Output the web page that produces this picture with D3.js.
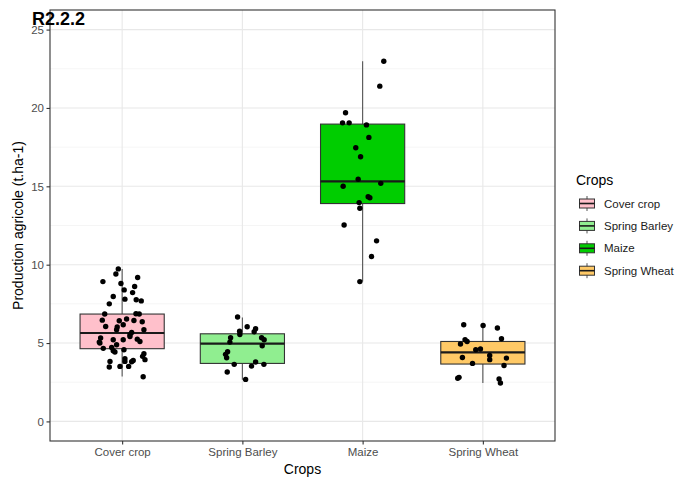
<!DOCTYPE html>
<html>
<head>
<meta charset="utf-8">
<script src="https://cdn.jsdelivr.net/npm/d3@7"></script>
<style>
  html, body { margin: 0; padding: 0; background: #fff; }
  svg { display: block; font-family: "Liberation Sans", Arial, sans-serif; }
</style>
</head>
<body>
<svg id="chart" width="678" height="477"></svg>
<script>
// ---------------- data ----------------
const categories = ["Cover crop", "Spring Barley", "Maize", "Spring Wheat"];
const yTicks = [0, 5, 10, 15, 20, 25];
const yMinorTicks = [2.5, 7.5, 12.5, 17.5, 22.5];

// box statistics (whisker low, Q1, median, Q3, whisker high)
const whiskerLow  = [2.87, 2.66, 8.93, 2.45];
const quartile1   = [4.64, 3.70, 13.90, 3.66];
const medians     = [5.64, 4.96, 15.32, 4.40];
const quartile3   = [6.85, 5.59, 18.97, 5.10];
const whiskerHigh = [9.73, 6.63, 22.98, 6.17];

// observations (values) and their horizontal jitter (fraction of category step)
const coverValues = [9.73,9.41,8.92,9.18,8.80,8.61,8.39,8.22,7.97,7.80,7.76,7.69,7.50,6.85,6.87,6.85,6.46,6.42,6.53,6.44,6.36,6.06,6.02,6.17,5.85,5.85,5.68,5.42,5.32,5.21,5.06,5.21,5.25,5.10,4.89,4.66,4.72,4.51,4.57,4.32,4.00,4.15,3.94,3.83,3.81,3.51,3.51,3.47,2.85,5.00,5.53,4.43,3.83,3.89];
const coverJitter = [-0.032,-0.052,-0.160,0.129,-0.010,0.104,0.017,0.087,-0.074,0.023,0.117,0.159,-0.107,-0.145,0.115,0.142,-0.165,-0.024,0.037,0.098,0.167,-0.137,-0.041,0.009,-0.046,0.181,0.079,0.065,-0.179,-0.074,-0.190,0.009,0.126,0.148,-0.046,-0.157,-0.087,-0.074,0.015,0.181,0.023,0.170,0.190,-0.101,0.079,-0.018,0.054,-0.107,0.175,-0.185,0.065,-0.060,0.023,0.092];

const barleyValues = [6.66,6.04,5.91,5.72,5.76,5.55,5.34,5.34,5.21,5.06,4.83,4.45,4.28,4.06,3.64,3.79,3.53,3.64,3.15,2.68];
const barleyJitter = [-0.040,0.040,0.110,0.098,-0.023,-0.021,-0.098,0.160,0.181,-0.104,0.165,-0.123,-0.140,-0.131,-0.068,0.110,0.076,0.179,-0.126,0.027];

const maizeValues = [22.98,21.39,19.69,19.05,19.05,18.92,18.12,17.46,16.89,15.45,15.19,15.00,14.34,14.27,13.96,13.60,12.53,11.52,10.52,8.92];
const maizeJitter = [0.176,0.143,-0.142,-0.167,-0.112,0.032,0.052,-0.057,-0.017,-0.037,0.151,-0.162,0.046,0.060,-0.029,-0.023,-0.154,0.116,0.074,-0.023];

const wheatValues = [6.17,6.12,5.96,5.27,5.21,5.10,4.94,4.57,4.62,4.21,3.94,4.08,4.04,3.57,3.70,2.81,2.75,2.71,2.45];
const wheatJitter = [-0.159,0.002,0.121,0.155,-0.148,-0.131,-0.186,-0.059,-0.020,0.057,0.057,-0.170,0.196,0.176,-0.086,-0.198,-0.209,0.135,0.146];

// ---------------- styles ----------------
const fillColors = ["#FFC0CB", "#90EE90", "#00CD00", "#FFC966"];

// ---------------- build ----------------
const valuesByCat = [coverValues, barleyValues, maizeValues, wheatValues];
const jitterByCat = [coverJitter, barleyJitter, maizeJitter, wheatJitter];

const svg = d3.select("#chart");
const panel = { left: 50, right: 555, top: 10, bottom: 441 };

const x = d3.scalePoint().domain(categories).range([panel.left, panel.right]).padding(0.6);
const step = x.step();
const y = d3.scaleLinear().domain([-1.25, 26.25]).range([panel.bottom, panel.top]);

// panel background
svg.append("rect").attr("x", panel.left).attr("y", panel.top)
  .attr("width", panel.right - panel.left).attr("height", panel.bottom - panel.top)
  .attr("fill", "#fff");

// grid
const grid = svg.append("g");
grid.selectAll(".minor").data(yMinorTicks).join("line")
  .attr("x1", panel.left).attr("x2", panel.right)
  .attr("y1", d => y(d)).attr("y2", d => y(d))
  .attr("stroke", "#F0F0F0").attr("stroke-width", 0.7);
grid.selectAll(".major").data(yTicks).join("line")
  .attr("x1", panel.left).attr("x2", panel.right)
  .attr("y1", d => y(d)).attr("y2", d => y(d))
  .attr("stroke", "#E8E8E8").attr("stroke-width", 1.1);
grid.selectAll(".vmajor").data(categories).join("line")
  .attr("x1", d => x(d)).attr("x2", d => x(d))
  .attr("y1", panel.top).attr("y2", panel.bottom)
  .attr("stroke", "#E8E8E8").attr("stroke-width", 1.1);

// boxes
const boxW = step * 0.7;
const boxes = svg.append("g");
categories.forEach((c, i) => {
  const cx = x(c);
  const g = boxes.append("g");
  g.append("line").attr("x1", cx).attr("x2", cx)
    .attr("y1", y(whiskerLow[i])).attr("y2", y(quartile1[i]))
    .attr("stroke", "#555").attr("stroke-width", 1.1);
  g.append("line").attr("x1", cx).attr("x2", cx)
    .attr("y1", y(quartile3[i])).attr("y2", y(whiskerHigh[i]))
    .attr("stroke", "#555").attr("stroke-width", 1.1);
  g.append("rect")
    .attr("x", cx - boxW / 2).attr("width", boxW)
    .attr("y", y(quartile3[i])).attr("height", y(quartile1[i]) - y(quartile3[i]))
    .attr("fill", fillColors[i]).attr("stroke", "#333").attr("stroke-width", 1.1);
  g.append("line")
    .attr("x1", cx - boxW / 2).attr("x2", cx + boxW / 2)
    .attr("y1", y(medians[i])).attr("y2", y(medians[i]))
    .attr("stroke", "#1a1a1a").attr("stroke-width", 2.2);
});

// points
const pts = svg.append("g");
categories.forEach((c, i) => {
  const data = valuesByCat[i].map((v, k) => ({ v, j: jitterByCat[i][k] }));
  pts.selectAll(null).data(data).join("circle")
    .attr("cx", d => x(c) + d.j * step)
    .attr("cy", d => y(d.v))
    .attr("r", 2.7)
    .attr("fill", "#000");
});

// panel border
svg.append("rect").attr("x", panel.left).attr("y", panel.top)
  .attr("width", panel.right - panel.left).attr("height", panel.bottom - panel.top)
  .attr("fill", "none").attr("stroke", "#333").attr("stroke-width", 1.1);

// axes
const yAxis = svg.append("g").attr("transform", `translate(${panel.left},0)`)
  .call(d3.axisLeft(y).tickValues(yTicks).tickSize(3.5).tickPadding(2.5).tickFormat(d3.format("d")));
const xAxis = svg.append("g").attr("transform", `translate(0,${panel.bottom})`)
  .call(d3.axisBottom(x).tickSize(3.5).tickPadding(3));
[yAxis, xAxis].forEach(a => {
  a.select(".domain").remove();
  a.selectAll(".tick line").attr("stroke", "#333").attr("stroke-width", 1.1);
  a.selectAll(".tick text").attr("fill", "#4D4D4D").style("font-size", "11.5px")
    .style("font-family", "'Liberation Sans', Arial, sans-serif");
});

// axis titles
svg.append("text").attr("x", (panel.left + panel.right) / 2).attr("y", 474)
  .attr("text-anchor", "middle").attr("fill", "#000").style("font-size", "14px")
  .text("Crops");
svg.append("text")
  .attr("transform", `translate(23,${(panel.top + panel.bottom) / 2}) rotate(-90)`)
  .attr("text-anchor", "middle").attr("fill", "#000").style("font-size", "14px")
  .text("Production agricole (t.ha-1)");

// plot title
svg.append("text").attr("x", 32).attr("y", 25)
  .attr("fill", "#000").style("font-size", "18px").style("font-weight", "bold")
  .text("R2.2.2");

// legend
const legend = svg.append("g");
legend.append("text").attr("x", 576).attr("y", 185)
  .attr("fill", "#000").style("font-size", "14px").text("Crops");
categories.forEach((c, i) => {
  const cy = 203.5 + i * 22.4;
  const kx = 587;
  const g = legend.append("g");
  g.append("line").attr("x1", kx).attr("x2", kx).attr("y1", cy - 7.5).attr("y2", cy + 7.5)
    .attr("stroke", "#555").attr("stroke-width", 1);
  g.append("rect").attr("x", kx - 7.5).attr("y", cy - 4.5).attr("width", 15).attr("height", 9)
    .attr("fill", fillColors[i]).attr("stroke", "#333").attr("stroke-width", 1);
  g.append("line").attr("x1", kx - 7.5).attr("x2", kx + 7.5).attr("y1", cy).attr("y2", cy)
    .attr("stroke", "#1a1a1a").attr("stroke-width", 1.6);
  g.append("text").attr("x", 604).attr("y", cy).attr("dy", "0.35em")
    .attr("fill", "#1a1a1a").style("font-size", "11.5px").text(c);
});
</script>
</body>
</html>
